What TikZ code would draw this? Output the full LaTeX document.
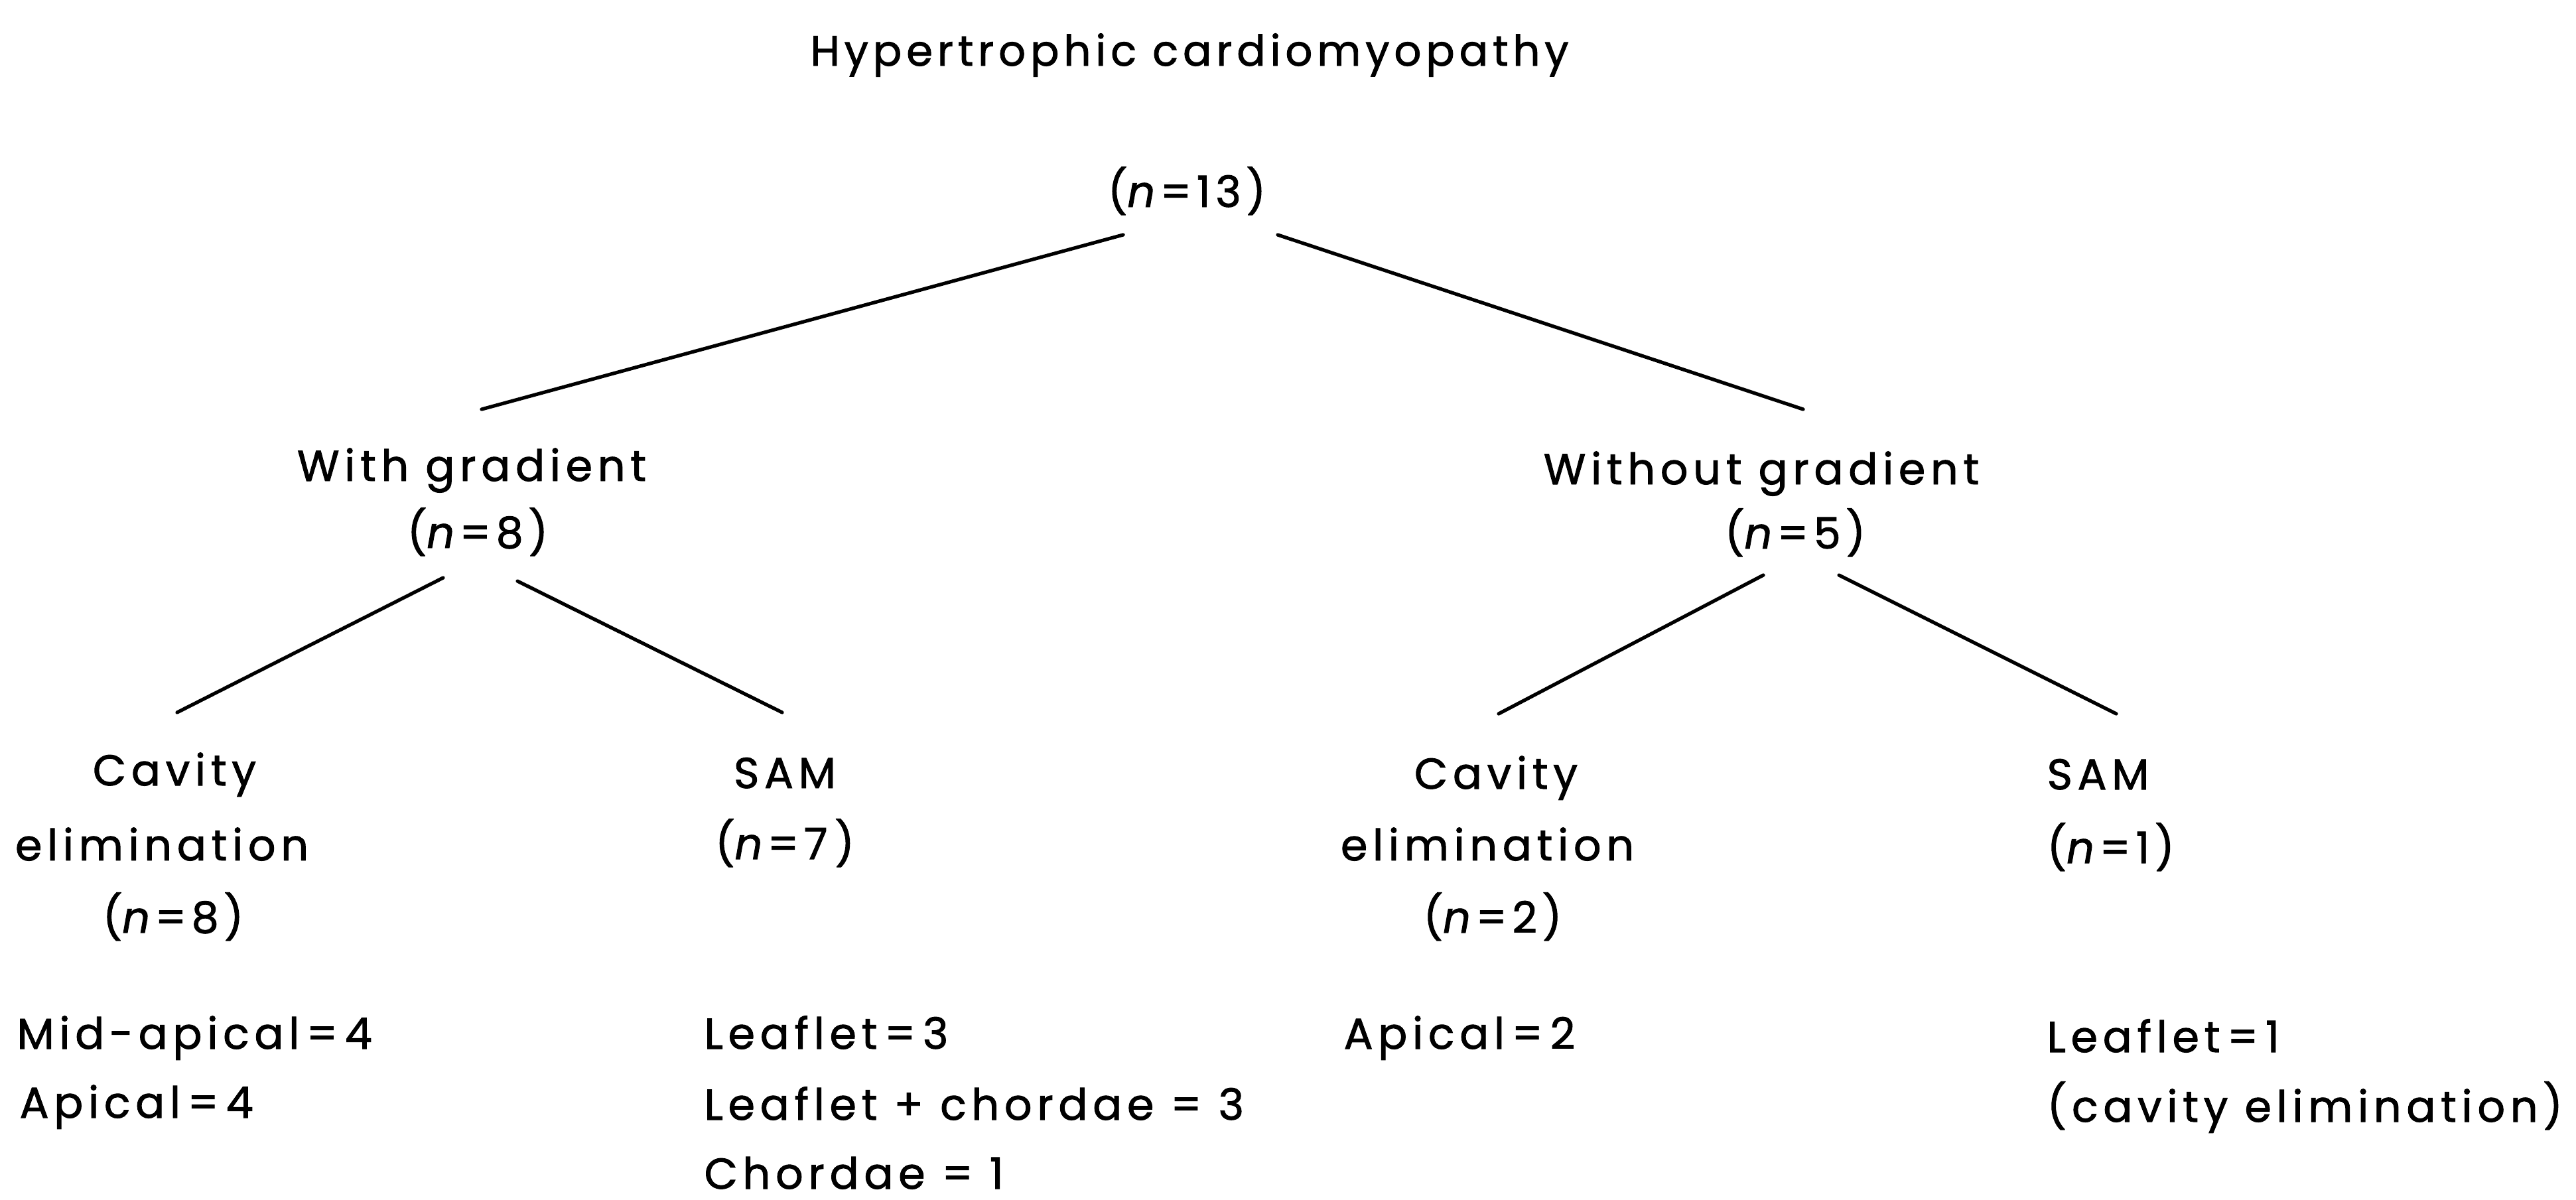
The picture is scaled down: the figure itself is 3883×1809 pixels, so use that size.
\documentclass[tikz,border=0pt]{standalone}
\usepackage{fontspec}
\setmainfont{Poppins}[LetterSpace=12,FakeBold=1.5]
\newfontfamily\titlefont{Poppins}[LetterSpace=11,FakeBold=1.5]
\begin{document}
\begin{tikzpicture}[x=0.01cm,y=-0.01cm,
  lbl/.style={inner sep=0pt,anchor=base,font=\fontsize{18.5}{22}\selectfont},
  lbll/.style={lbl,anchor=base west},
  link/.style={line width=1.5pt,line cap=round}]
\useasboundingbox (0,0) rectangle (3883,1809);
% root
\node[lbl,font=\titlefont\fontsize{18.2}{22}\selectfont] (title) at (1793,99) {Hypertrophic cardiomyopathy};
\node[lbl] (n13) at (1789,312) {(\textit{n}=13)};
% level 2
\node[lbl] (withg) at (711,725) {With gradient};
\node[lbl] (n8) at (720,826) {(\textit{n}=8)};
\node[lbl] (withoutg) at (2655,730) {Without gradient};
\node[lbl] (n5) at (2706,827) {(\textit{n}=5)};
% level 3 left
\node[lbl] (cav1) at (263,1184) {Cavity};
\node[lbl] (elim1) at (244,1297) {elimination};
\node[lbl] (ce8) at (261,1406) {(\textit{n}=8)};
\node[lbll] (midap) at (25,1581) {Mid-apical\,=\,4};
\node[lbll] (ap4) at (29,1685) {Apical\,=\,4};
\node[lbl] (sam1) at (1183,1188) {SAM};
\node[lbl] (n7) at (1183,1295) {(\textit{n}=7\,)};
\node[lbll] (leaf3) at (1061,1581) {Leaflet\,=\,3};
\node[lbll] (leafch) at (1061,1688) {Leaflet + chordae = 3};
\node[lbll] (chord) at (1061,1792) {Chordae = 1};
% level 3 right
\node[lbl] (cav2) at (2255,1189) {Cavity};
\node[lbl] (elim2) at (2242,1297) {elimination};
\node[lbl] (ce2) at (2250,1406) {(\textit{n}=2)};
\node[lbll] (ap2) at (2025,1581) {Apical\,=\,2};
\node[lbll] (sam2) at (3085,1190) {SAM};
\node[lbll] (n1) at (3085,1301) {(\textit{n}=1)};
\node[lbll] (leaf1) at (3085,1586) {Leaflet\,=\,1};
\node[lbll] (cavel) at (3085,1691) {(cavity elimination)};
% connector end points
\coordinate (rL) at (1693,354);
\coordinate (rR) at (1926,354);
\coordinate (wT) at (726,617);
\coordinate (woT) at (2718,617);
\coordinate (wL) at (668,871);
\coordinate (wR) at (780,876);
\coordinate (c1T) at (267,1074);
\coordinate (s1T) at (1179,1074);
\coordinate (woL) at (2658,867);
\coordinate (woR) at (2772,867);
\coordinate (c2T) at (2259,1076);
\coordinate (s2T) at (3190,1076);
\draw[link] (rL) -- (wT);
\draw[link] (rR) -- (woT);
\draw[link] (wL) -- (c1T);
\draw[link] (wR) -- (s1T);
\draw[link] (woL) -- (c2T);
\draw[link] (woR) -- (s2T);
\end{tikzpicture}
\end{document}
